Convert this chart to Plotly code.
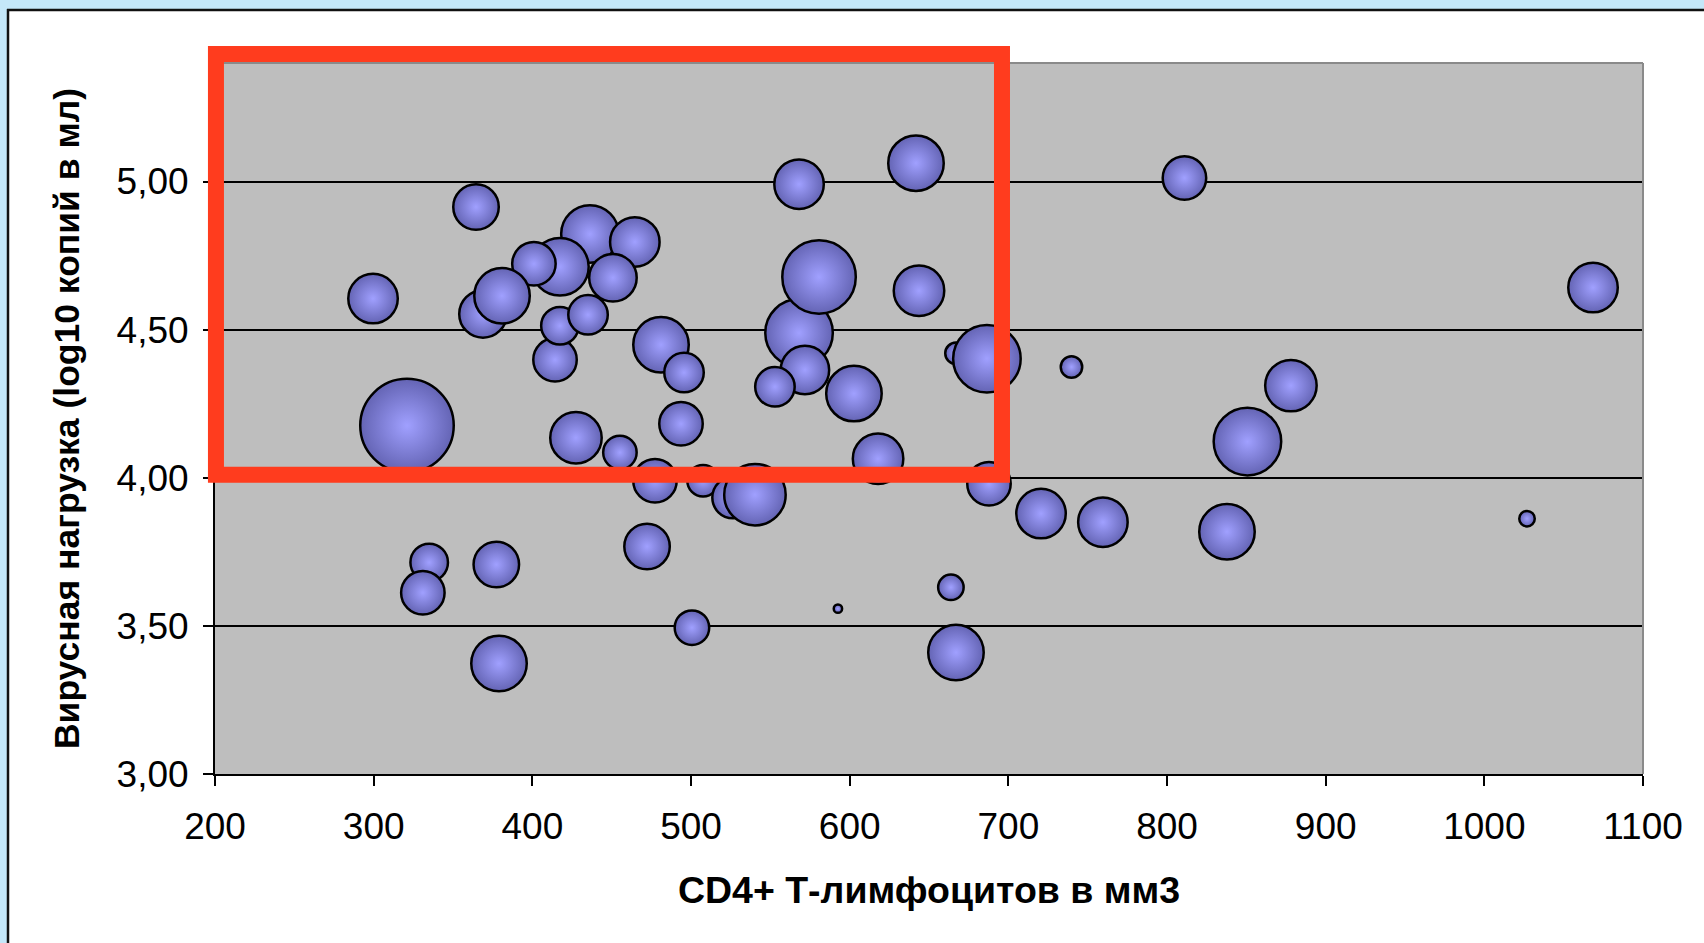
import plotly.graph_objects as go

# CD4+ T-lymphocytes per mm3 (x), viral load log10 copies/ml (y), bubble size (third variable)
cd4 = [299.6, 321.0, 364.5, 436.3, 464.6, 417.4, 450.8, 368.9, 401.0, 380.9,
       414.3, 417.4, 435.1, 481.1, 495.6, 493.7, 427.5, 455.2, 477.3, 507.6,
       526.5, 540.3, 568.1, 641.8, 568.1, 580.7, 571.8, 552.9, 602.7, 667.0,
       686.5, 617.9, 687.8, 811.0, 739.8, 878.1, 850.7, 1068.5, 720.6, 759.6,
       837.8, 1026.9, 472.3, 335.0, 331.0, 377.3, 379.0, 500.6, 592.6, 663.8,
       667.0, 643.7]
viral_load = [4.605, 4.176, 4.914, 4.823, 4.796, 4.712, 4.675, 4.553, 4.722, 4.614,
              4.398, 4.513, 4.550, 4.449, 4.355, 4.182, 4.135, 4.085, 3.990, 3.990,
              3.933, 3.943, 4.991, 5.062, 4.489, 4.678, 4.364, 4.307, 4.284, 4.420,
              4.402, 4.064, 3.980, 5.012, 4.374, 4.311, 4.122, 4.642, 3.879, 3.850,
              3.818, 3.862, 3.768, 3.714, 3.612, 3.707, 3.373, 3.494, 3.558, 3.630,
              3.410, 4.631]
bubble_size = [24.5, 87.4, 20.7, 33.1, 24.5, 33.1, 22.6, 22.6, 18.9, 30.8,
               18.9, 14.1, 15.6, 30.8, 15.6, 18.9, 26.5, 11.2, 18.9, 9.9,
               17.2, 37.8, 24.5, 30.8, 45.6, 54.0, 23.5, 15.6, 30.8, 4.6,
               45.6, 25.5, 18.9, 18.9, 4.6, 26.5, 45.6, 24.5, 24.5, 24.5,
               30.8, 2.4, 20.7, 14.1, 18.9, 20.7, 30.8, 11.9, 0.7, 6.5,
               30.8, 25.5]

x_ticks = list(range(200, 1101, 100))
y_ticks = [3.0, 3.5, 4.0, 4.5, 5.0]
x_range = [200, 1100]
y_range = [3.0, 5.4]

# highlighted region (data units: CD4 from ~200 to ~696, viral load from ~4.01 up above the plot)
hl_x = [200.6, 696.0]
hl_y = [4.01, 5.43]

W, H = 1704, 943
ML, MR, MT, MB = 215, 61, 63, 169
pw = W - ML - MR
ph = H - MT - MB

max_d = 93.5
sizeref = 2.0 * max(bubble_size) / (max_d ** 2)

font_family = "Liberation Sans, Arial, sans-serif"

fig = go.Figure()
fig.add_trace(go.Scatter(
    x=cd4, y=viral_load, mode="markers",
    marker=dict(
        size=bubble_size, sizemode="area", sizeref=sizeref, sizemin=1,
        color="#6464b4",
        gradient=dict(type="radial", color="#a0a0ff"),
        line=dict(color="black", width=2.5),
        opacity=1,
    ),
    hoverinfo="x+y",
    showlegend=False,
))

def px_to_paper_x(p):
    return (p - ML) / pw

def px_to_paper_y(p):
    return (H - MB - p) / ph

def dx(v):
    return (v - x_range[0]) / (x_range[1] - x_range[0])

def dy(v):
    return (v - y_range[0]) / (y_range[1] - y_range[0])

shapes = []
# light blue frame strips (left + top) and black border of white panel
blue = "#c4e7f9"
shapes.append(dict(type="rect", xref="paper", yref="paper", x0=px_to_paper_x(-5), x1=px_to_paper_x(8),
                   y0=px_to_paper_y(H + 5), y1=px_to_paper_y(-5), fillcolor=blue, line=dict(width=0), layer="below"))
shapes.append(dict(type="rect", xref="paper", yref="paper", x0=px_to_paper_x(-5), x1=px_to_paper_x(W + 5),
                   y0=px_to_paper_y(9), y1=px_to_paper_y(-5), fillcolor=blue, line=dict(width=0), layer="below"))
shapes.append(dict(type="line", xref="paper", yref="paper", x0=px_to_paper_x(8), x1=px_to_paper_x(8),
                   y0=px_to_paper_y(H + 5), y1=px_to_paper_y(9), line=dict(color="#111", width=2.5)))
shapes.append(dict(type="line", xref="paper", yref="paper", x0=px_to_paper_x(7), x1=px_to_paper_x(W + 5),
                   y0=px_to_paper_y(10), y1=px_to_paper_y(10), line=dict(color="#111", width=2.5)))
# gray top/right border of the plot area
shapes.append(dict(type="line", xref="paper", yref="paper", x0=0, x1=1, y0=1, y1=1,
                   line=dict(color="#8a8a8a", width=2)))
shapes.append(dict(type="line", xref="paper", yref="paper", x0=1, x1=1, y0=0, y1=1,
                   line=dict(color="#8a8a8a", width=2)))
# red highlight rectangle
shapes.append(dict(type="rect", xref="paper", yref="paper",
                   x0=dx(hl_x[0]), x1=dx(hl_x[1]), y0=dy(hl_y[0]), y1=dy(hl_y[1]),
                   line=dict(color="#ff3c1e", width=16), fillcolor="rgba(0,0,0,0)", layer="above"))

fig.update_layout(
    width=W, height=H,
    margin=dict(l=ML, r=MR, t=MT, b=MB, pad=0),
    paper_bgcolor="white",
    plot_bgcolor="#bebebe",
    separators=", ",
    font=dict(family=font_family, color="black"),
    shapes=shapes,
    xaxis=dict(
        range=x_range, tickmode="array", tickvals=x_ticks,
        ticks="outside", ticklen=10, tickwidth=2, tickcolor="black",
        showline=True, linecolor="black", linewidth=2,
        showgrid=False, zeroline=False,
        tickfont=dict(size=37, family=font_family),
        ticklabelstandoff=9,
        title=dict(text="<b>CD4+ Т-лимфоцитов в мм3</b>", font=dict(size=37.5, family=font_family), standoff=30),
    ),
    yaxis=dict(
        range=y_range, tickmode="array", tickvals=y_ticks, tickformat=".2f",
        ticks="outside", ticklen=10, tickwidth=2, tickcolor="black",
        showline=True, linecolor="black", linewidth=2,
        showgrid=True, gridcolor="black", gridwidth=2, zeroline=False,
        tickfont=dict(size=37, family=font_family),
        ticklabelstandoff=7,
        title=dict(text="<b>Вирусная нагрузка (log10 копий в мл)</b>", font=dict(size=35.5, family=font_family), standoff=26),
    ),
)

fig.write_html("out.html")
